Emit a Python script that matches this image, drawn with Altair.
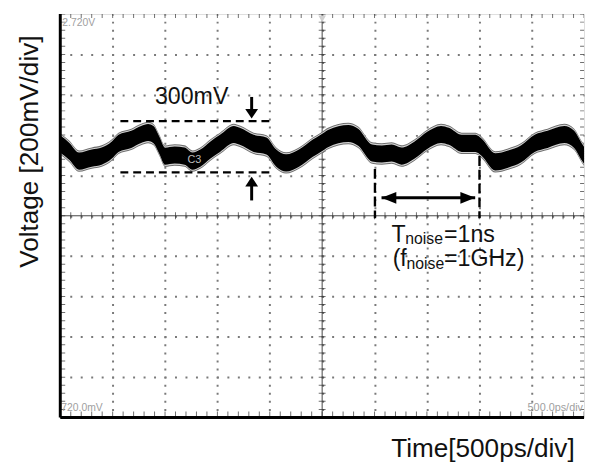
import altair as alt
import pandas as pd

# ---------------- data ----------------
# time in ns (0..5 ns, 500 ps/div), voltage in V (0.72..2.72 V, 200 mV/div)
wave_t = [0.00, 0.085, 0.179, 0.301, 0.395, 0.490, 0.556, 0.678, 0.772, 0.838,
          0.890, 0.945, 1.000, 1.092, 1.186, 1.262, 1.337, 1.431, 1.525, 1.657,
          1.714, 1.846, 1.968, 2.062, 2.156, 2.279, 2.411, 2.486, 2.561, 2.750,
          2.844, 2.976, 3.070, 3.164, 3.258, 3.380, 3.503, 3.635, 3.710, 3.832,
          3.964, 4.021, 4.153, 4.275, 4.397, 4.529, 4.652, 4.812, 4.906, 4.981, 5.0]
wave_v = [2.075, 2.040, 1.991, 2.006, 2.016, 2.045, 2.079, 2.099, 2.123, 2.133,
          2.122, 2.070, 2.015, 2.021, 2.016, 1.991, 2.006, 2.045, 2.079, 2.123,
          2.114, 2.079, 2.066, 2.006, 1.982, 2.006, 2.055, 2.079, 2.104, 2.128,
          2.109, 2.031, 2.026, 2.031, 2.016, 2.045, 2.094, 2.123, 2.114, 2.079,
          2.079, 2.060, 1.987, 2.001, 2.026, 2.079, 2.099, 2.123, 2.099, 2.035, 2.02]
band_outer = 0.0530   # half width of the noisy trace (V)
band_mid = 0.0480
band_core = 0.0425

# 300 mV bracket (dashed horizontals)
hdash_t0 = [0.574, 0.574]
hdash_t1 = [2.006, 2.006]
hdash_v = [2.189, 1.935]
# T_noise markers (dashed verticals)
vdash_t = [3.004, 4.002]
vdash_v0 = [1.952, 2.016]
vdash_v1 = [1.708, 1.708]
# arrows
arrow_shaft_t0 = [1.827, 1.827, 3.067]
arrow_shaft_t1 = [1.827, 1.827, 3.961]
arrow_shaft_v0 = [2.309, 1.796, 1.809]
arrow_shaft_v1 = [2.230, 1.894, 1.809]
head_t = [1.827, 1.827, 3.067, 3.961]
head_v = [2.202, 1.913, 1.809, 1.809]
head_kind = ["down", "up", "left", "right"]

# texts
big_text = ["300mV", "T", "=1ns", "(f", "=1GHz)"]
big_t = [0.904, 3.161, 3.663, 3.173, 3.663]
big_v = [2.275, 1.592, 1.592, 1.470, 1.470]
sub_text = ["noise", "noise"]
sub_t = [3.293, 3.305]
sub_v = [1.578, 1.455]
scope_left_text = ["2.720V", "720.0mV"]
scope_left_t = [0.019, 0.010]
scope_left_v = [2.661, 0.752]
scope_right_text = ["500.0ps/div"]
scope_right_t = [4.99]
scope_right_v = [0.754]
marker_text = ["C3"]
marker_t = [1.215]
marker_v = [1.982]
trigger_t = [2.5]
trigger_v = [2.696]

# scope graticule structure
T_MIN, T_MAX, V_MIN, V_MAX = 0.0, 5.0, 0.72, 2.72
grid_t = [round(0.5 * i, 3) for i in range(1, 10)]
grid_v = [round(V_MIN + 0.2 * i, 3) for i in range(1, 10)]
minor_t = [round(0.1 * i, 3) for i in range(51)]
minor_v = [round(V_MIN + 0.04 * i, 3) for i in range(51)]
center_t = 2.5
center_v = 1.72

FONT = "Liberation Sans"
W, H = 531, 409


def X(field, **kw):
    return alt.X(
        f"{field}:Q",
        scale=alt.Scale(domain=[T_MIN, T_MAX], nice=False, zero=False),
        axis=alt.Axis(values=grid_t, grid=True, gridDash=[2, 6.18], gridDashOffset=1,
                      gridColor="#7a7a7a", gridWidth=2, labels=False, ticks=False,
                      domain=False, title="Time[500ps/div]", titleFont=FONT,
                      titleFontSize=26.5, titleFontWeight="normal", titleColor="#111",
                      titleAlign="right", titleBaseline="alphabetic", titleX=521, titleY=40),
        **kw)


def Y(field, **kw):
    return alt.Y(
        f"{field}:Q",
        scale=alt.Scale(domain=[V_MIN, V_MAX], nice=False, zero=False),
        axis=alt.Axis(values=grid_v, grid=True, gridDash=[2, 8.62], gridDashOffset=1,
                      gridColor="#7a7a7a", gridWidth=2, labels=False, ticks=False,
                      domain=False, title="Voltage [200mV/div]", titleFont=FONT,
                      titleFontSize=26.5, titleFontWeight="normal", titleColor="#111",
                      titleAngle=270, titleAlign="center", titleBaseline="alphabetic",
                      titleX=-23.5, titleY=139),
        **kw)


wave = pd.DataFrame({"t": wave_t, "v": wave_v})
for name, hw in [("outer", band_outer), ("mid", band_mid), ("core", band_core)]:
    wave[name + "_lo"] = wave["v"] - hw
    wave[name + "_hi"] = wave["v"] + hw

vt_rows = []
for t in minor_t:
    vt_rows += [{"t": t, "v": V_MIN, "sz": 12}, {"t": t, "v": V_MAX, "sz": 8},
                {"t": t, "v": center_v, "sz": 7}]
ht_rows = []
for v in minor_v:
    ht_rows += [{"t": T_MIN, "v": v, "sz": 10}, {"t": T_MAX, "v": v, "sz": 8},
                {"t": center_t, "v": v, "sz": 7}]
vticks = pd.DataFrame(vt_rows)
hticks = pd.DataFrame(ht_rows)

layers = []

# centre cross lines
layers.append(alt.Chart(pd.DataFrame({"t": [center_t]})).mark_rule(color="#444", strokeWidth=1)
              .encode(x=X("t")))
layers.append(alt.Chart(pd.DataFrame({"v": [center_v]})).mark_rule(color="#444", strokeWidth=1)
              .encode(y=Y("v")))
# minor ticks
layers.append(alt.Chart(vticks).mark_tick(orient="vertical", thickness=1, color="#333", clip=True)
              .encode(x=X("t"), y=Y("v"), size=alt.Size("sz:Q", scale=None)))
layers.append(alt.Chart(hticks).mark_tick(orient="horizontal", thickness=1, color="#333", clip=True)
              .encode(x=X("t"), y=Y("v"), size=alt.Size("sz:Q", scale=None)))

# noisy trace
for name, col in [("outer", "#6e6e6e"), ("mid", "#d2d2d2"), ("core", "#000000")]:
    layers.append(alt.Chart(wave).mark_area(interpolate="monotone", color=col, opacity=1)
                  .encode(x=X("t"), y=Y(name + "_lo"), y2=alt.Y2(name + "_hi")))

# dashed bracket lines
hd = pd.DataFrame({"t0": hdash_t0, "t1": hdash_t1, "v": hdash_v})
layers.append(alt.Chart(hd).mark_rule(color="black", strokeWidth=2.4, strokeDash=[8, 5])
              .encode(x=X("t0"), x2=alt.X2("t1"), y=Y("v")))
vd = pd.DataFrame({"t": vdash_t, "v0": vdash_v0, "v1": vdash_v1})
layers.append(alt.Chart(vd).mark_rule(color="black", strokeWidth=2.4, strokeDash=[10, 4])
              .encode(x=X("t"), y=Y("v0"), y2=alt.Y2("v1")))

# arrows
sh = pd.DataFrame({"t0": arrow_shaft_t0, "t1": arrow_shaft_t1,
                   "v0": arrow_shaft_v0, "v1": arrow_shaft_v1})
layers.append(alt.Chart(sh).mark_rule(color="black", strokeWidth=3)
              .encode(x=X("t0"), x2=alt.X2("t1"), y=Y("v0"), y2=alt.Y2("v1")))
head_paths = {"down": "M0,0L-1,-1.5L1,-1.5Z", "up": "M0,0L-1,1.5L1,1.5Z",
              "left": "M0,0L2.5,-1L2.5,1Z", "right": "M0,0L-2.5,-1L-2.5,1Z"}
head_sizes = {"down": 169, "up": 169, "left": 144, "right": 144}
hd_df = pd.DataFrame({"t": head_t, "v": head_v,
                      "shape": [head_paths[k] for k in head_kind],
                      "sz": [head_sizes[k] for k in head_kind]})
layers.append(alt.Chart(hd_df).mark_point(filled=True, color="black", opacity=1, strokeWidth=0)
              .encode(x=X("t"), y=Y("v"), shape=alt.Shape("shape:N", scale=None),
                      size=alt.Size("sz:Q", scale=None)))

# trigger marker
layers.append(alt.Chart(pd.DataFrame({"t": trigger_t, "v": trigger_v}))
              .mark_point(shape="triangle-down", filled=True, color="#d0d0d0", size=60, opacity=1)
              .encode(x=X("t"), y=Y("v")))

# texts
layers.append(alt.Chart(pd.DataFrame({"t": big_t, "v": big_v, "s": big_text}))
              .mark_text(font=FONT, fontSize=23.5, align="left", baseline="alphabetic", color="#111")
              .encode(x=X("t"), y=Y("v"), text="s:N"))
layers.append(alt.Chart(pd.DataFrame({"t": sub_t, "v": sub_v, "s": sub_text}))
              .mark_text(font=FONT, fontSize=16, align="left", baseline="alphabetic", color="#111")
              .encode(x=X("t"), y=Y("v"), text="s:N"))
layers.append(alt.Chart(pd.DataFrame({"t": scope_left_t, "v": scope_left_v, "s": scope_left_text}))
              .mark_text(font=FONT, fontSize=10.5, align="left", baseline="alphabetic", color="#a0a0a0")
              .encode(x=X("t"), y=Y("v"), text="s:N"))
layers.append(alt.Chart(pd.DataFrame({"t": scope_right_t, "v": scope_right_v, "s": scope_right_text}))
              .mark_text(font=FONT, fontSize=11, align="right", baseline="alphabetic", color="#a0a0a0")
              .encode(x=X("t"), y=Y("v"), text="s:N"))
layers.append(alt.Chart(pd.DataFrame({"t": marker_t, "v": marker_v, "s": marker_text}))
              .mark_text(font=FONT, fontSize=11, align="left", baseline="alphabetic", color="#bbbbbb")
              .encode(x=X("t"), y=Y("v"), text="s:N"))

# heavier left and bottom frame edges
layers.append(alt.Chart(pd.DataFrame({"t": [T_MIN]})).mark_rule(color="black", strokeWidth=3)
              .encode(x=X("t")))
layers.append(alt.Chart(pd.DataFrame({"v": [V_MIN]})).mark_rule(color="black", strokeWidth=3)
              .encode(y=Y("v")))

chart = (alt.layer(*layers)
         .properties(width=W, height=H,
                     padding={"left": 53, "top": 3, "right": 2, "bottom": 42},
                     autosize=alt.AutoSizeParams(type="none"))
         .configure_view(stroke="black", strokeWidth=2)
         .configure(background="white"))

chart.save("out.html", embed_options={"renderer": "svg", "actions": False})
